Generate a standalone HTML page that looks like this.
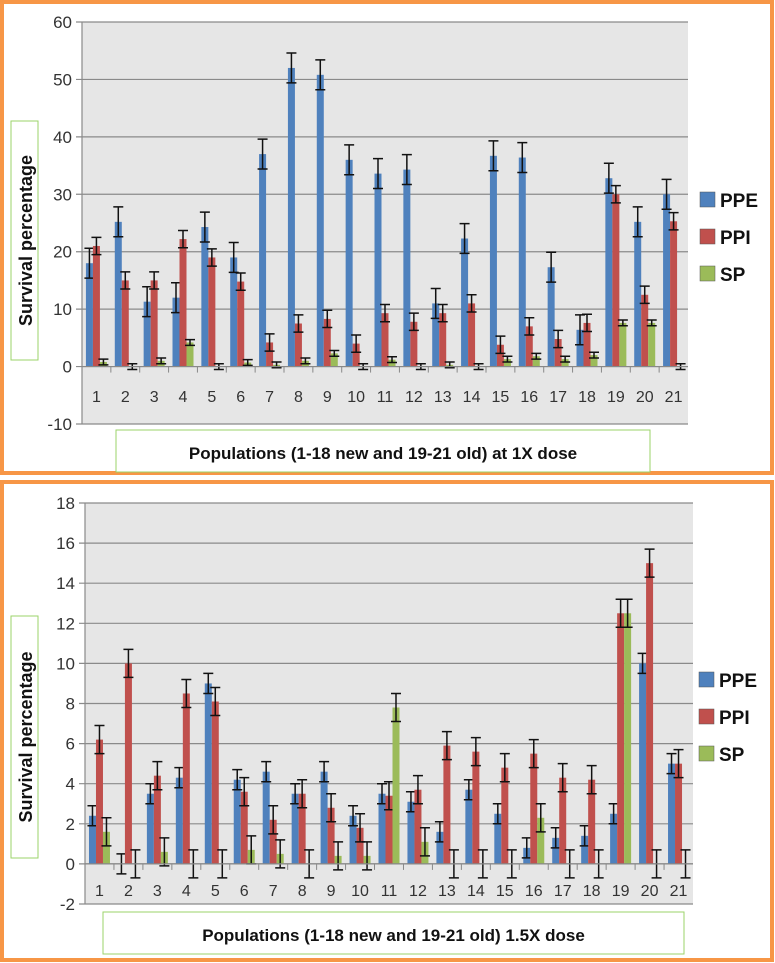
<!DOCTYPE html>
<html><head><meta charset="utf-8"><style>
body{margin:0;background:#fff;font-family:"Liberation Sans",sans-serif;}
svg{display:block}
</style></head><body>
<svg id="s" width="775" height="963" xmlns="http://www.w3.org/2000/svg"></svg>
<script>
const categories=["1","2","3","4","5","6","7","8","9","10","11","12","13","14","15","16","17","18","19","20","21"];
const seriesNames=["PPE","PPI","SP"];
const colors=["#4F81BD","#C0504D","#9BBB59"];
const topPPE=[18,25.2,11.3,12,24.3,19,37,52,50.8,36,33.6,34.3,11,22.3,36.7,36.4,17.3,6.4,32.8,25.2,30];
const topPPI=[21,15,15,22.2,19,14.8,4.2,7.5,8.3,4,9.3,7.8,9.3,11,3.8,7,4.8,7.6,30,12.5,25.3];
const topSP=[0.8,0,1,4.2,0,0.7,0.3,1,2.3,0,1.2,0,0.3,0,1.3,1.8,1.3,2,7.6,7.6,0];
const topErr=[2.6,1.5,0.5];
const topTicks=[-10,0,10,20,30,40,50,60];
const botPPE=[2.4,0,3.5,4.3,9,4.2,4.6,3.5,4.6,2.4,3.5,3.1,1.6,3.7,2.5,0.8,1.3,1.4,2.5,10,5];
const botPPI=[6.2,10,4.4,8.5,8.1,3.6,2.2,3.5,2.8,1.8,3.4,3.7,5.9,5.6,4.8,5.5,4.3,4.2,12.5,15,5];
const botSP=[1.6,0,0.6,0,0,0.7,0.5,0,0.4,0.4,7.8,1.1,0,0,0,2.3,0,0,12.5,0,0];
const botErr=[0.5,0.7,0.7];
const botTicks=[-2,0,2,4,6,8,10,12,14,16,18];
const NS="http://www.w3.org/2000/svg";
const svg=document.getElementById('s');
function mk(tag,attrs,parent){const e=document.createElementNS(NS,tag);for(const k in attrs)e.setAttribute(k,attrs[k]);(parent||svg).appendChild(e);return e;}
function panel(o){
  const g=mk('g',{});
  
  
  const fr=mk('rect',{x:o.fx,y:o.fy,width:o.fw,height:o.fh,fill:'#fff',stroke:'#F79646','stroke-width':4},g);
  
  
  const ymin=o.ticks[0],ymax=o.ticks[o.ticks.length-1];
  const Y=v=>o.py1-(v-ymin)/(ymax-ymin)*(o.py1-o.py0);
  const cw=(o.px1-o.px0)/categories.length;
  const X=i=>o.px0+cw*i;
  const bg=mk('rect',{x:o.px0,y:o.py0,width:o.px1-o.px0,height:o.py1-o.py0,fill:'#e6e6e6'},g);
  
  
  o.ticks.forEach(t=>{
    const l=mk('line',{x1:o.px0-6,x2:o.px1,y1:Y(t),y2:Y(t),stroke:'#8a8a8a','stroke-width':1.2},g);
    
    
    const tx=mk('text',{x:o.px0-10,y:Y(t)+6,'text-anchor':'end','font-size':17,fill:'#333'},g);
    tx.textContent=t;
    
    
  });
  mk('line',{x1:o.px0,x2:o.px0,y1:o.py0,y2:o.py1,stroke:'#8a8a8a','stroke-width':1.2},g);
  const bw=7,series=[o.a,o.b,o.c];
  categories.forEach((c,i)=>{
    const cx=X(i)+cw/2;
    mk('line',{x1:X(i),x2:X(i),y1:Y(0),y2:Y(0)+6,stroke:'#888'},g);
    const tl=mk('text',{x:cx,y:o.labY,'text-anchor':'middle','font-size':16,fill:'#333'},g);
    tl.textContent=c;
    
    
    series.forEach((s,k)=>{
      const v=s[i];const bx=cx-1.5*bw+k*bw;
      const r=mk('rect',{x:bx,y:Math.min(Y(v),Y(0)),width:bw,height:Math.abs(Y(0)-Y(v)),fill:colors[k]},g);
      
      
      const e=o.err[k],ex=bx+bw/2;
      const p=mk('path',{d:`M${ex},${Y(v+e)}V${Y(v-e)}M${ex-5},${Y(v+e)}h10M${ex-5},${Y(v-e)}h10`,stroke:'#111','stroke-width':1.5,fill:'none'},g);
      
      
    });
  });
  mk('line',{x1:o.px0,x2:o.px1,y1:Y(0),y2:Y(0),stroke:'#888','stroke-width':1.2},g);
  const yb=mk('rect',{x:11,y:o.ytb0,width:27,height:o.ytb1-o.ytb0,fill:'#fff',stroke:'#9BD36A','stroke-width':1},g);
  
  
  const yt=mk('text',{x:0,y:0,transform:`translate(32,${(o.ytb0+o.ytb1)/2}) rotate(-90)`,'text-anchor':'middle','font-size':18,'font-weight':'bold',fill:'#111'},g);
  yt.textContent='Survival percentage';
  
  
  const xb=mk('rect',{x:o.xb0,y:o.xby,width:o.xb1-o.xb0,height:42,fill:'#fff',stroke:'#9BD36A','stroke-width':1},g);
  
  
  const xt=mk('text',{x:(o.xb0+o.xb1)/2,y:o.xby+29,'text-anchor':'middle','font-size':17,'font-weight':'bold',fill:'#111'},g);
  xt.textContent=o.xtitle;
  
  
  seriesNames.forEach((n,k)=>{
    const ly=o.legY+k*37;
    const sq=mk('rect',{x:o.legX,y:ly-8,width:15,height:15,fill:colors[k],stroke:'#555','stroke-width':0.5},g);
    
    
    const lt=mk('text',{x:o.legX+20,y:ly+7,'font-size':19,'font-weight':'bold',fill:'#111'},g);
    lt.textContent=n;
    
    
  });
}
panel({name:'chart-1x-dose',fx:2,fy:2,fw:770,fh:471,px0:82,px1:688,py0:22,py1:424,ticks:topTicks,a:topPPE,b:topPPI,c:topSP,err:topErr,labY:402,ytb0:121,ytb1:360,xb0:116,xb1:650,xby:430,xtitle:'Populations (1-18 new and 19-21 old) at 1X dose',legX:700,legY:200});
panel({name:'chart-1-5x-dose',fx:2,fy:482,fw:770,fh:478,px0:85,px1:693,py0:503,py1:904,ticks:botTicks,a:botPPE,b:botPPI,c:botSP,err:botErr,labY:896,ytb0:616,ytb1:858,xb0:103,xb1:684,xby:912,xtitle:'Populations (1-18 new and 19-21 old) 1.5X dose',legX:699,legY:680});
</script>
</body></html>
